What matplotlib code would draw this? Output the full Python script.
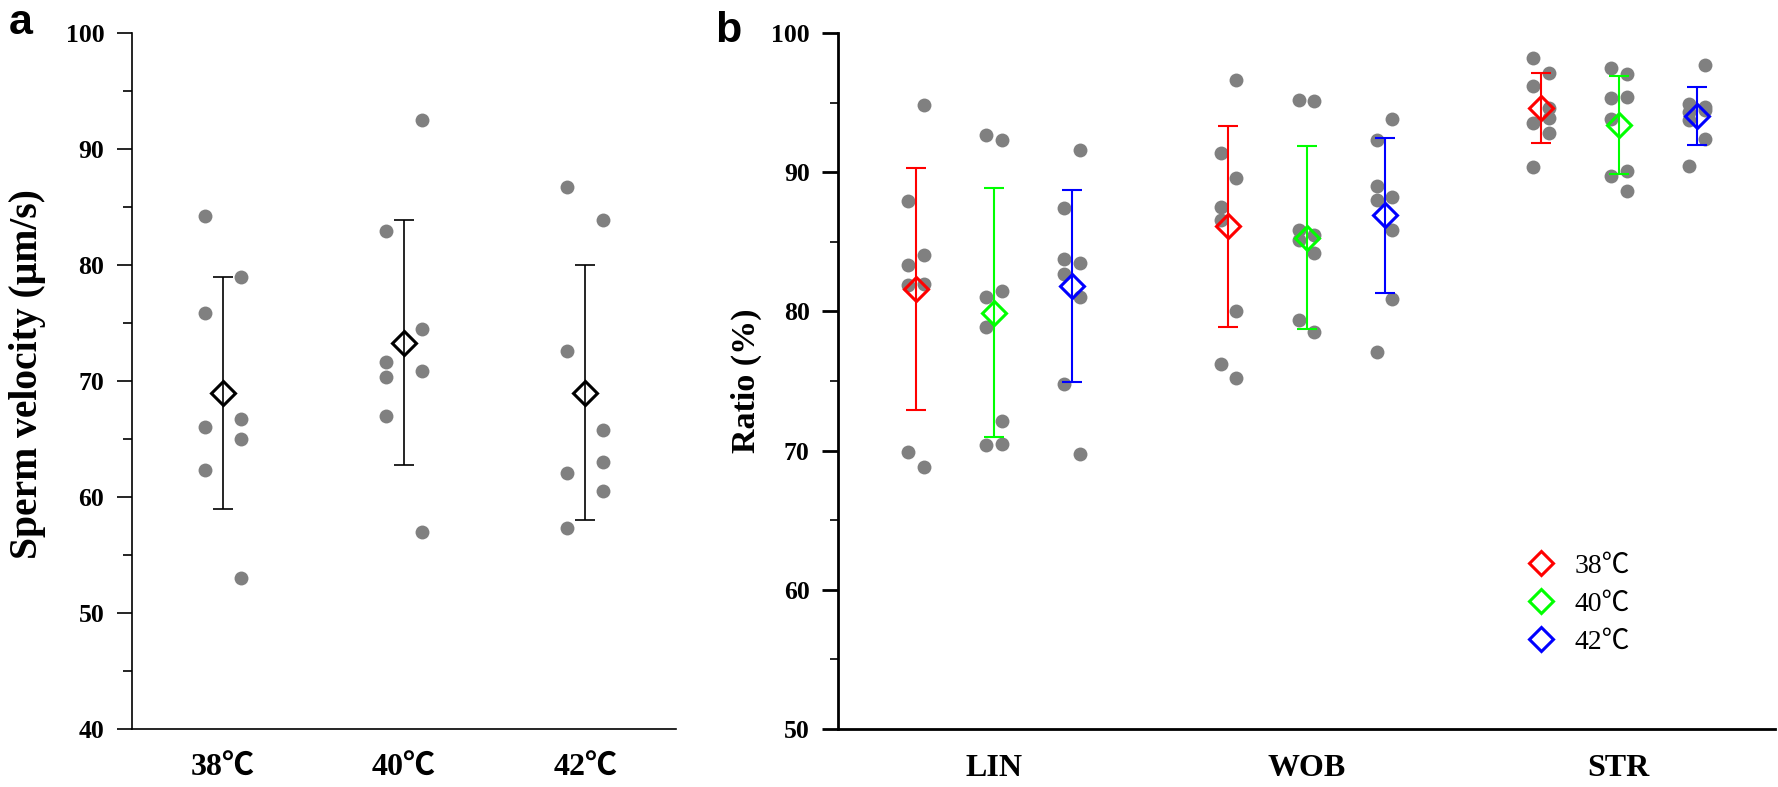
import matplotlib
matplotlib.use("Agg")
import matplotlib.pyplot as plt
from matplotlib.lines import Line2D
from matplotlib.ticker import MultipleLocator
import numpy as np

# ---------------- data ----------------
temps = ['38℃', '40℃', '42℃']
vel_left = [[84.2, 75.9, 66.0, 62.3], [82.9, 71.65, 70.35, 66.97], [86.7, 72.6, 62.1, 57.3]]
vel_right = [[79.0, 66.7, 65.0, 53.0], [92.5, 74.5, 70.9, 57.0], [83.9, 65.8, 63.0, 60.5]]
vel_mean = [69.0, 73.3, 69.0]
vel_sd = [10.0, 10.55, 11.0]

metrics = ['LIN', 'WOB', 'STR']
ratio_mean_38 = [81.6, 86.1, 94.6]
ratio_mean_40 = [79.9, 85.3, 93.4]
ratio_mean_42 = [81.8, 86.9, 94.05]
ratio_sd_38 = [8.7, 7.25, 2.5]
ratio_sd_40 = [8.95, 6.6, 3.5]
ratio_sd_42 = [6.9, 5.55, 2.1]

left_38 = [[87.9, 83.3, 81.9, 69.9], [91.4, 87.5, 86.6, 76.2], [98.2, 96.2, 93.55, 90.35]]
right_38 = [[94.8, 84.05, 82.0, 68.8], [96.6, 89.6, 80.05, 75.2], [97.1, 94.6, 93.9, 92.85]]
left_40 = [[92.7, 81.0, 78.9, 70.4], [95.2, 85.85, 85.1, 79.4], [97.45, 95.3, 93.8, 89.7]]
right_40 = [[92.3, 81.5, 72.1, 70.45], [95.1, 85.5, 84.2, 78.5], [97.05, 95.4, 90.1, 88.65]]
left_42 = [[87.45, 83.8, 82.7, 74.75], [92.3, 89.0, 88.0, 77.1], [94.9, 94.3, 93.75, 90.45]]
right_42 = [[91.6, 83.5, 81.05, 69.75], [93.8, 88.25, 85.85, 80.9], [97.7, 94.7, 94.5, 92.4]]

series_colors = ['#FF0000', '#00FF00', '#0000FF']
dot_color = '#808080'

# ---------------- style ----------------
SERIF = ['Liberation Serif', 'Noto Sans CJK SC', 'DejaVu Serif']
plt.rcParams['font.family'] = SERIF

fig = plt.figure(figsize=(17.78, 7.87), dpi=100)
W, H = 1778, 787
def axrect(l, r, t, b):
    return [l / W, (H - b) / H, (r - l) / W, (b - t) / H]

axa = fig.add_axes(axrect(132, 676, 33, 729))
axb = fig.add_axes(axrect(838, 1775, 33, 729))

# ---------------- panel a ----------------
xa = np.arange(1, len(temps) + 1)
for i in range(len(temps)):
    axa.plot([xa[i] - 0.1] * len(vel_left[i]), vel_left[i], 'o', color=dot_color,
             ms=10, mec='none', zorder=2, clip_on=False)
    axa.plot([xa[i] + 0.1] * len(vel_right[i]), vel_right[i], 'o', color=dot_color,
             ms=10, mec='none', zorder=2, clip_on=False)
axa.errorbar(xa, vel_mean, yerr=vel_sd, fmt='none', ecolor='black', elinewidth=1.2,
             capsize=7.5, capthick=1.2, zorder=3)
axa.plot(xa, vel_mean, 'D', ms=12.5, mfc='none', mec='black', mew=2.2, ls='none', zorder=4)

axa.set_xlim(0.5, 3.5)
axa.set_ylim(40, 100)
axa.set_xticks(xa)
axa.set_xticklabels(temps)
axa.yaxis.set_major_locator(MultipleLocator(10))
axa.yaxis.set_minor_locator(MultipleLocator(5))
for s in ['top', 'right']:
    axa.spines[s].set_visible(False)
for s in ['left', 'bottom']:
    axa.spines[s].set_linewidth(1.2)
axa.tick_params(axis='y', which='major', direction='out', length=11, width=1.2, pad=9,
                labelsize=18.5)
axa.tick_params(axis='y', which='minor', direction='out', length=6.5, width=1.2)
axa.tick_params(axis='x', which='both', length=0, pad=18, labelsize=23)
for lab in axa.get_yticklabels() + axa.get_xticklabels():
    lab.set_fontweight('bold')
axa.set_ylabel('Sperm velocity (μm/s)', fontsize=28.5, fontweight='bold')
axa.yaxis.set_label_coords(-0.158, 0.51)

# ---------------- panel b ----------------
xb = np.arange(1, len(metrics) + 1)
offsets = [-0.25, 0.0, 0.25]
means = [ratio_mean_38, ratio_mean_40, ratio_mean_42]
sds = [ratio_sd_38, ratio_sd_40, ratio_sd_42]
lefts = [left_38, left_40, left_42]
rights = [right_38, right_40, right_42]
for k in range(3):
    xs = xb + offsets[k]
    for j in range(len(metrics)):
        axb.plot([xs[j] - 0.025] * len(lefts[k][j]), lefts[k][j], 'o', color=dot_color,
                 ms=10, mec='none', zorder=2)
        axb.plot([xs[j] + 0.025] * len(rights[k][j]), rights[k][j], 'o', color=dot_color,
                 ms=10, mec='none', zorder=2)
    axb.errorbar(xs, means[k], yerr=sds[k], fmt='none', ecolor=series_colors[k],
                 elinewidth=1.5, capsize=7.5, capthick=1.5, zorder=3)
    axb.plot(xs, means[k], 'D', ms=12.5, mfc='none', mec=series_colors[k], mew=2.2,
             ls='none', zorder=4)

axb.set_xlim(0.5, 3.5)
axb.set_ylim(50, 100)
axb.set_xticks(xb)
axb.set_xticklabels(metrics)
axb.yaxis.set_major_locator(MultipleLocator(10))
axb.yaxis.set_minor_locator(MultipleLocator(5))
for s in ['top', 'right']:
    axb.spines[s].set_visible(False)
for s in ['left', 'bottom']:
    axb.spines[s].set_linewidth(2.0)
axb.tick_params(axis='y', which='major', direction='out', length=11.5, width=2.0, pad=9,
                labelsize=18.5)
axb.tick_params(axis='y', which='minor', direction='out', length=6, width=1.2)
axb.tick_params(axis='x', which='both', length=0, pad=18, labelsize=23)
for lab in axb.get_yticklabels() + axb.get_xticklabels():
    lab.set_fontweight('bold')
axb.set_ylabel('Ratio (%)', fontsize=24.5, fontweight='bold')
axb.yaxis.set_label_coords(-0.081, 0.50)

handles = [Line2D([], [], marker='D', ms=12.5, mfc='none', mec=c, mew=2.2, ls='none')
           for c in series_colors]
fig.legend(handles, temps, loc='center left', bbox_to_anchor=(1527 / W, (H - 604) / H),
           frameon=False, fontsize=20, handlelength=1.0, handletextpad=0.7,
           labelspacing=0.45, borderpad=0, borderaxespad=0)

# panel letters
fig.text(9 / W, (H - 34) / H, 'a', fontsize=31, fontweight='bold',
         family=['Liberation Sans', 'DejaVu Sans'], va='baseline', ha='left')
fig.text(715 / W, (H - 42) / H, 'b', fontsize=31, fontweight='bold',
         family=['Liberation Sans', 'DejaVu Sans'], va='baseline', ha='left')

fig.savefig('out.png', dpi=100)
